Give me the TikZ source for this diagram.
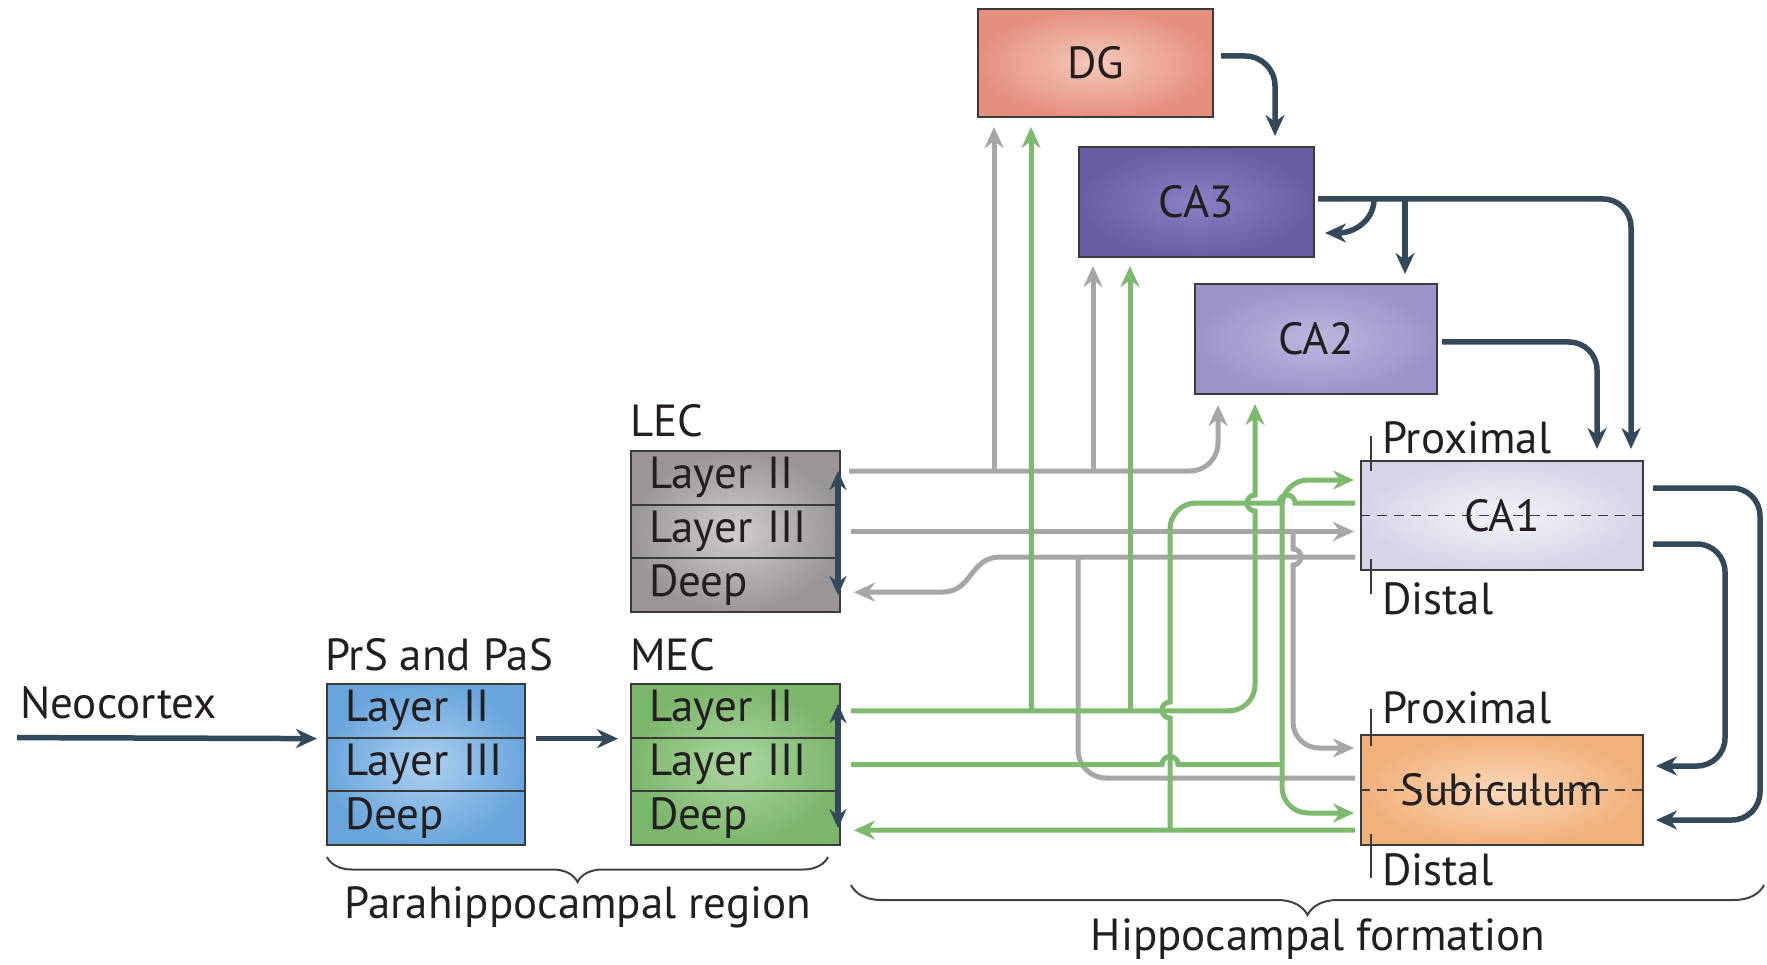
\documentclass[tikz,border=0pt]{standalone}
\usepackage{fontspec}
\setmainfont{PT Sans}
\usetikzlibrary{arrows.meta,decorations.pathreplacing}
\definecolor{ink}{HTML}{231F20}
\definecolor{slate}{HTML}{33495A}
\definecolor{wire}{HTML}{A8A6A7}
\definecolor{leaf}{HTML}{7DBA6E}
\definecolor{frame}{HTML}{3B3B3B}
\definecolor{dgOut}{HTML}{E5907F}
\definecolor{dgIn}{HTML}{F5C9BA}
\definecolor{caThreeOut}{HTML}{675DA3}
\definecolor{caThreeIn}{HTML}{8A80C4}
\definecolor{caTwoOut}{HTML}{9D93CA}
\definecolor{caTwoIn}{HTML}{BDB6DF}
\definecolor{caOneOut}{HTML}{D6D5E8}
\definecolor{caOneIn}{HTML}{F4F3F9}
\definecolor{subOut}{HTML}{F2B07A}
\definecolor{subIn}{HTML}{FAD9BB}
\definecolor{lecOut}{HTML}{9B9696}
\definecolor{lecIn}{HTML}{D2CDCD}
\definecolor{mecOut}{HTML}{7BB66B}
\definecolor{mecIn}{HTML}{ACD6A0}
\definecolor{prsOut}{HTML}{6AA6DD}
\definecolor{prsIn}{HTML}{AED0F0}
\newcommand{\labelfont}{\fontsize{45}{54}\selectfont}

\begin{document}
\begin{tikzpicture}[x=1pt,y=-1pt,
  lbl/.style={font=\labelfont, text=ink, inner sep=0pt},
  area/.style={draw=frame, line width=2pt, inner sep=0pt, font=\labelfont, text=ink},
  layer/.style={draw=frame, line width=2pt, inner xsep=18pt, inner ysep=0pt,
    align=left, font=\labelfont, text=ink, minimum height=53.7pt},
  head/.style={-{Stealth[length=21pt,width=19pt]}},
  twohead/.style={{Stealth[length=19pt,width=17pt]}-{Stealth[length=19pt,width=17pt]}},
  dk/.style={draw=slate, line width=5.5pt},
  gy/.style={draw=wire, line width=5pt},
  gn/.style={draw=leaf, line width=5pt},
  tick/.style={draw=frame, line width=1.8pt},
  brc/.style={draw=ink!85, line width=2pt, decorate}
]
\useasboundingbox (0,0) rectangle (1767,965);
\fill[white] (0,0) rectangle (1767,965);

% ---------- parahippocampal region ----------
\node[area, inner color=prsIn, outer color=prsOut, minimum width=198pt, minimum height=161pt] (prs) at (426,764.5) {};
\node[layer, text width=162pt] (prs2) at (426,710.8) {Layer II};
\node[layer, text width=162pt] (prs3) at (426,764.5) {Layer III};
\node[layer, text width=162pt] (prsd) at (426,818.2) {Deep};

\node[area, inner color=mecIn, outer color=mecOut, minimum width=209pt, minimum height=161pt] (mec) at (735.5,764.5) {};
\node[layer, text width=173pt] (mec2) at (735.5,710.8) {Layer II};
\node[layer, text width=173pt] (mec3) at (735.5,764.5) {Layer III};
\node[layer, text width=173pt] (mecd) at (735.5,818.2) {Deep};

\node[area, inner color=lecIn, outer color=lecOut, minimum width=209pt, minimum height=161pt] (lec) at (735.5,531.5) {};
\node[layer, text width=173pt] (lec2) at (735.5,477.8) {Layer II};
\node[layer, text width=173pt] (lec3) at (735.5,531.5) {Layer III};
\node[layer, text width=173pt] (lecd) at (735.5,585.2) {Deep};

\node[lbl, anchor=base west] (neo) at (20,718) {Neocortex};
\node[lbl, anchor=base west] (prsl) at (325,670) {PrS and PaS};
\node[lbl, anchor=base west] (mecl) at (630,670) {MEC};
\node[lbl, anchor=base west] (lecl) at (630,436) {LEC};

% ---------- hippocampal formation ----------
\node[area, inner color=dgIn, outer color=dgOut, minimum width=235pt, minimum height=108pt] (dg) at (1095.5,63) {DG};
\node[area, inner color=caThreeIn, outer color=caThreeOut, minimum width=235pt, minimum height=110pt] (ca3) at (1196.5,202) {CA3};
\node[area, inner color=caTwoIn, outer color=caTwoOut, minimum width=242pt, minimum height=110pt] (ca2) at (1316,339) {CA2};
\node[area, inner color=caOneIn, outer color=caOneOut, minimum width=282pt, minimum height=109pt] (ca1) at (1502,515.5) {CA1};
\node[area, inner color=subIn, outer color=subOut, minimum width=282pt, minimum height=110pt] (sub) at (1502,790) {Subiculum};

\draw[frame, line width=1.8pt, dash pattern=on 10pt off 7pt] (ca1.west) -- (ca1.east);
\draw[frame, line width=1.8pt, dash pattern=on 10pt off 7pt] (sub.west) -- (sub.east);

\draw[tick] ([shift={(11pt,24pt)}]ca1.north west) -- ([shift={(11pt,-11pt)}]ca1.north west);
\draw[tick] ([shift={(11pt,12pt)}]ca1.south west) -- ([shift={(11pt,-23pt)}]ca1.south west);
\draw[tick] ([shift={(11pt,25pt)}]sub.north west) -- ([shift={(11pt,-12pt)}]sub.north west);
\draw[tick] ([shift={(11pt,12pt)}]sub.south west) -- ([shift={(11pt,-32pt)}]sub.south west);

\node[lbl, anchor=base west] (ca1p) at (1382,453) {Proximal};
\node[lbl, anchor=base west] (ca1d) at (1382,614) {Distal};
\node[lbl, anchor=base west] (subp) at (1382,723) {Proximal};
\node[lbl, anchor=base west] (subd) at (1382,885) {Distal};

% ---------- braces ----------
\coordinate (phA) at (327,857);
\coordinate (phB) at (828,857);
\draw[brc, decoration={brace, mirror, amplitude=25pt}] (phA) -- (phB);
\node[lbl, anchor=base] (phl) at (578,918) {Parahippocampal region};
\coordinate (hfA) at (851,885);
\coordinate (hfB) at (1764,885);
\draw[brc, decoration={brace, mirror, amplitude=30pt}] (hfA) -- (hfB);
\node[lbl, anchor=base] (hfl) at (1318,950) {Hippocampal formation};

% ---------- lateral entorhinal pathways ----------
\coordinate (gDG) at (994,471);
\coordinate (gCA3) at (1093,471);
\coordinate (gLane) at (1218,0);
\draw[gy, head, rounded corners=28pt, shorten >=10pt] ([shift={(8pt,6.8pt)}]lec2.east) -| (gLane |- ca2.south);
\draw[gy, head, shorten >=9pt] (gDG) -- (gDG |- dg.south);
\draw[gy, head, shorten >=8pt] (gCA3) -- (gCA3 |- ca3.south);

\draw[gy, head, shorten >=6pt] ([xshift=10pt]lec3.east) -- (ca1.west |- lec3.east);
\coordinate (gSub) at (1293,531.5);
\draw[gy, head] (gSub) -- (1293,549) arc[start angle=90, end angle=-90, radius=8pt]
  -- (1293,722) arc[start angle=180, end angle=270, radius=26pt]
  -- ([shift={(-6pt,42pt)}]sub.west);

\draw[gy, head] ([shift={(-5pt,-41.5pt)}]ca1.west) -- (1000,557)
  .. controls (970,557) and (972,592) .. (943,592)
  -- ([shift={(13pt,-7pt)}]lecd.east);
\coordinate (gTap) at (1078,557);
\draw[gy, rounded corners=28pt] ([shift={(-5pt,12pt)}]sub.west) -| (gTap);

% ---------- medial entorhinal pathways ----------
\coordinate (eDG) at (1031,710.8);
\coordinate (eCA3) at (1130,710.8);
\coordinate (eLane) at (1255,0);
\draw[gn, head, shorten >=9pt] ([xshift=10pt]mec2.east) -- (1229,710.8)
  arc[start angle=-90, end angle=0, radius=26pt]
  -- (1255,511) arc[start angle=-90, end angle=-270, radius=8pt]
  -- (eLane |- ca2.south);
\draw[gn, head, shorten >=9pt] (eDG) -- (eDG |- dg.south);
\draw[gn, head, shorten >=8pt] (eCA3) -- (eCA3 |- ca3.south);

\coordinate (eSplit) at (1282,764.5);
\draw[gn] ([xshift=10pt]mec3.east) -- (1162,764.5) arc[start angle=180, end angle=0, radius=8pt] -- (eSplit);
\draw[gn, head, rounded corners=26pt, shorten >=6pt] (eSplit) |- ([yshift=35.5pt]ca1.west);
\draw[gn, head, rounded corners=26pt, shorten >=6pt] (eSplit) |- ([yshift=-23pt]sub.west);

\coordinate (eJoin) at (1170,830);
\draw[gn] ([shift={(-5pt,12.5pt)}]ca1.west) -- (1295,503)
  arc[start angle=0, end angle=180, radius=8pt]
  -- (1196,503) arc[start angle=90, end angle=180, radius=26pt]
  -- (1170,702) arc[start angle=90, end angle=270, radius=8pt]
  -- (eJoin);
\draw[gn, head] ([shift={(-5pt,-40pt)}]sub.west) -- ([shift={(13pt,-12pt)}]mecd.east);

% ---------- trisynaptic and output pathways ----------
\coordinate (neoTail) at (17,737.6);
\draw[dk, head, shorten >=9pt] (neoTail) -- (prs2.south west);
\draw[dk, head, shorten <=10pt, shorten >=12pt] (prs2.south east) -- (mec2.south west);

\draw[dk, twohead] ([shift={(-3pt,-21pt)}]lec2.north east) -- ([shift={(-3pt,18pt)}]lecd.south east);
\draw[dk, twohead] ([shift={(-3pt,-21pt)}]mec2.north east) -- ([shift={(-3pt,18pt)}]mecd.south east);

\coordinate (dgLane) at (1275,0);
\draw[dk, head, rounded corners=30pt, shorten >=10pt] ([shift={(7pt,7pt)}]dg.east) -| (dgLane |- ca3.north);

\coordinate (ca3Lane) at (1631,0);
\draw[dk, head, rounded corners=28pt, shorten >=11pt] ([shift={(3pt,3pt)}]ca3.east) -| (ca3Lane |- ca1.north);
\coordinate (ca3Tap) at (1405,199);
\draw[dk, head, shorten >=9pt] (ca3Tap) -- (ca3Tap |- ca2.north);
\coordinate (recTap) at (1374,199);
\draw[dk, head] (recTap) .. controls (1374,220) and (1355,233) .. ([shift={(10pt,-31pt)}]ca3.east);

\coordinate (ca2Lane) at (1597,0);
\draw[dk, head, rounded corners=28pt, shorten >=11pt] ([shift={(4pt,-3pt)}]ca2.east) -| (ca2Lane |- ca1.north);

\coordinate (loopOutLo) at (1760,820);
\coordinate (loopInLo) at (1725,766);
\draw[dk, head, rounded corners=28pt] ([shift={(9pt,27.5pt)}]ca1.east) -| (loopOutLo) -- ([shift={(12pt,-30pt)}]sub.east);
\draw[dk, head, rounded corners=28pt] ([shift={(9pt,-28.5pt)}]ca1.east) -| (loopInLo) -- ([shift={(12pt,24pt)}]sub.east);
\end{tikzpicture}
\end{document}
